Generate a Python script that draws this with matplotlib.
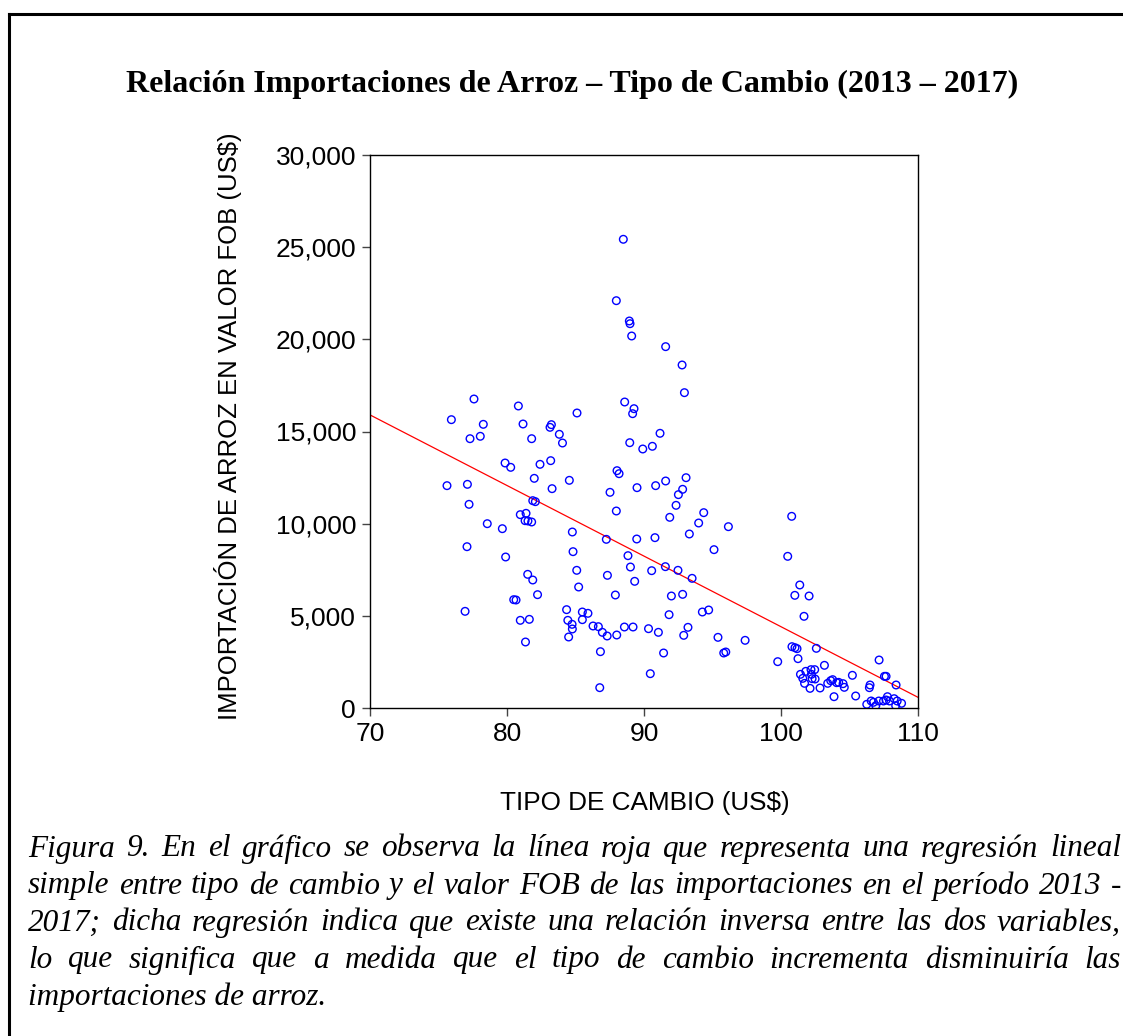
import matplotlib
matplotlib.use("Agg")
import matplotlib.pyplot as plt
from matplotlib.lines import Line2D
from matplotlib.ticker import FuncFormatter

# tipo de cambio (x) and FOB import value (y)
TIPO_CAMBIO = [
    88.49, 87.98, 88.93, 88.98, 89.10, 77.59, 80.83, 75.94, 78.27, 81.17,
    83.24, 83.14, 85.11, 88.59, 89.27, 89.17, 91.58, 92.78, 92.95,
    83.82, 77.30, 78.05, 81.80, 84.05, 88.96, 89.91, 79.86, 80.27, 82.41,
    83.19, 88.03, 88.18, 81.99, 84.55, 75.62, 77.11, 83.29, 87.52, 89.49,
    87.98, 77.23, 81.88, 82.07, 80.97, 81.39, 81.32, 81.53, 81.80, 78.56,
    79.66, 84.77, 87.25, 89.47, 77.08, 79.90, 84.82, 88.83, 89.01, 85.09,
    87.33, 81.51, 81.88, 89.32, 85.23, 82.23, 87.91, 80.49, 80.66, 76.94,
    84.35, 85.50, 85.91, 85.50, 84.44, 84.75, 84.77, 80.97, 81.63, 86.28,
    86.67, 86.96, 87.31, 88.01, 88.57, 89.20, 84.50, 81.35, 86.82, 86.77,
    91.17, 90.61, 91.58, 93.07, 90.85, 92.82, 92.51, 92.34, 94.36, 91.88,
    93.99, 96.16, 100.78, 93.31, 90.80, 95.11, 100.49, 90.56, 91.56, 92.48,
    93.51, 101.37, 92.00, 92.82, 101.01, 102.05, 91.83, 94.26, 94.72, 101.68,
    90.33, 91.05, 93.21, 92.90, 95.40, 97.38, 91.43, 95.82, 95.97, 90.46,
    99.76, 100.80, 101.02, 101.17, 102.58, 101.24, 103.17, 105.21, 107.16, 107.55,
    107.67, 108.40, 106.50, 106.45, 101.42, 101.81, 102.19, 102.46, 102.22, 101.59,
    102.27, 102.49, 101.72, 102.12, 102.85, 103.41, 103.63, 103.77, 104.06, 104.21,
    104.53, 104.62, 103.87, 105.45, 106.26, 106.58, 106.75, 106.92, 107.14, 107.48,
    107.77, 107.92, 108.26, 108.48, 108.80, 108.37, 107.67,
]
VALOR_FOB = [
    25427, 22097, 20995, 20849, 20181, 16763, 16384, 15642, 15389, 15407,
    15371, 15226, 16004, 16600, 16238, 15967, 19603, 18608, 17107,
    14848, 14610, 14740, 14610, 14376, 14393, 14051, 13291, 13056, 13219,
    13418, 12875, 12712, 12459, 12351, 12062, 12134, 11899, 11700, 11953,
    10687, 11049, 11248, 11194, 10489, 10561, 10162, 10145, 10091, 9999,
    9728, 9548, 9150, 9168, 8751, 8192, 8481, 8264, 7649, 7469,
    7197, 7251, 6944, 6872, 6564, 6148, 6130, 5877, 5859, 5244,
    5335, 5208, 5136, 4792, 4756, 4539, 4286, 4756, 4810, 4449,
    4412, 4105, 3906, 3960, 4394, 4394, 3852, 3581, 3056, 1103,
    14902, 14197, 12315, 12494, 12062, 11864, 11574, 10995, 10597, 10344,
    10036, 9837, 10398, 9440, 9241, 8590, 8228, 7450, 7668, 7469,
    7034, 6673, 6076, 6166, 6112, 6076, 5063, 5208, 5317, 4973,
    4303, 4105, 4376, 3942, 3833, 3671, 2984, 2984, 3038, 1862,
    2514, 3327, 3273, 3219, 3237, 2677, 2315, 1773, 2604, 1718,
    1718, 1248, 1248, 1103, 1826, 1989, 2080, 2080, 1826, 1609,
    1592, 1573, 1338, 1066, 1085, 1338, 1483, 1537, 1374, 1392,
    1320, 1121, 614, 651, 199, 380, 309, 125, 380, 380,
    613, 380, 505, 380, 255, 125, 434,
]

# fitted regression line, end points
REG_X = [70, 110]
REG_Y = [15900, 580]

TITLE = "Relación Importaciones de Arroz – Tipo de Cambio (2013 – 2017)"
XLABEL = "TIPO DE CAMBIO (US$)"
YLABEL = "IMPORTACIÓN DE ARROZ EN VALOR FOB (US$)"
CAPTION = [
    "Figura 9. En el gráfico se observa la línea roja que representa una regresión lineal",
    "simple entre tipo de cambio y el valor FOB de las importaciones en el período 2013 -",
    "2017; dicha regresión indica que existe una relación inversa entre las dos variables,",
    "lo que significa que a medida que el tipo de cambio incrementa disminuiría las",
    "importaciones de arroz.",
]

W, H = 1123, 1036
fig = plt.figure(figsize=(W / 100, H / 100), dpi=100)

# outer frame (only left and top edges visible in the crop)
fig.add_artist(Line2D([9 / W, 9 / W], [0, 1 - 14 / H], color="black", lw=2.2,
                      transform=fig.transFigure))
fig.add_artist(Line2D([9 / W, 1], [1 - 14 / H, 1 - 14 / H], color="black", lw=2.2,
                      transform=fig.transFigure))

ax = fig.add_axes([370 / W, 1 - 708 / H, 548 / W, 553 / H])
ax.scatter(TIPO_CAMBIO, VALOR_FOB, s=30, facecolors="none", edgecolors="#0000FF",
           linewidths=1.0, zorder=3)
ax.plot(REG_X, REG_Y, color="red", lw=0.9, zorder=2)

ax.set_xlim(70, 110)
ax.set_ylim(0, 30000)
ax.set_xticks([70, 80, 90, 100, 110])
ax.set_yticks([0, 5000, 10000, 15000, 20000, 25000, 30000])
ax.yaxis.set_major_formatter(FuncFormatter(lambda v, p: f"{int(v):,}"))
ax.tick_params(direction="out", length=6, width=1, labelsize=19, pad=4,
               color="#444444")
for lab in ax.get_xticklabels() + ax.get_yticklabels():
    lab.set_fontfamily("Liberation Sans")
for sp in ax.spines.values():
    sp.set_color("black")
    sp.set_linewidth(1.0)

fig.text(228 / W, 1 - 426 / H, YLABEL, rotation=90, ha="center", va="center",
         fontsize=18.5, family="Liberation Sans")
fig.text(645 / W, 1 - 803 / H, XLABEL, ha="center", va="center",
         fontsize=18.8, family="Liberation Sans")
fig.text(572 / W, 1 - 84 / H, TITLE, ha="center", va="center", fontsize=23,
         fontweight="bold", family="Liberation Serif")

# justified italic caption
renderer = fig.canvas.get_renderer()
left, right = 28, 1121
ys = [849, 886, 923, 960, 997]
for i, (line, y) in enumerate(zip(CAPTION, ys)):
    words = line.split(" ")
    if i == len(CAPTION) - 1:
        fig.text(left / W, 1 - y / H, line, ha="left", va="center", fontsize=22.5,
                 style="italic", family="Liberation Serif")
        continue
    arts = [fig.text(0, 1 - y / H, w, ha="left", va="center", fontsize=22.5,
                     style="italic", family="Liberation Serif") for w in words]
    widths = [a.get_window_extent(renderer).width for a in arts]
    gap = (right - left - sum(widths)) / (len(words) - 1)
    x = left
    for a, wd in zip(arts, widths):
        a.set_x(x / W)
        x += wd + gap

fig.savefig("out.png", dpi=100)
